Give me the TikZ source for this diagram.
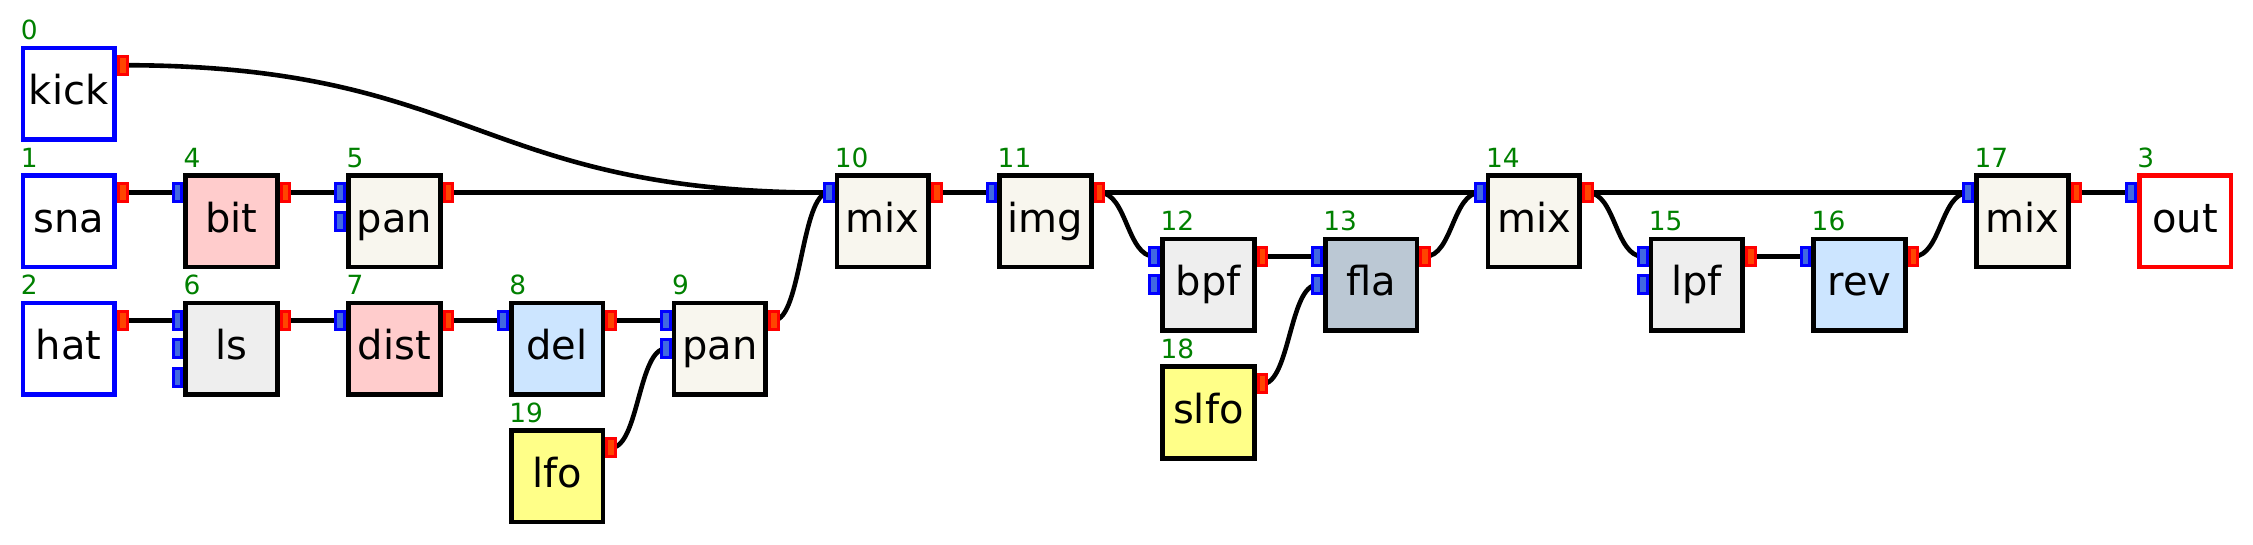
\documentclass[tikz,border=0pt]{standalone}
\usepackage{fontspec}
\setmainfont{DejaVu Sans}
\usetikzlibrary{calc,backgrounds}

\definecolor{numgreen}{HTML}{008000}
\definecolor{inblue}{HTML}{4169E1}
\definecolor{outred}{HTML}{FF4500}
\definecolor{pinkfill}{HTML}{FFCCCC}
\definecolor{ivoryfill}{HTML}{F8F6EE}
\definecolor{grayfill}{HTML}{EEEEEE}
\definecolor{bluefill}{HTML}{CCE5FF}
\definecolor{steelfill}{HTML}{BBC8D4}
\definecolor{yellowfill}{HTML}{FFFF88}

% wire between two ports, bent halfway
\newcommand{\wire}[2]{%
  \draw[wire] let \p1=(#1), \p2=(#2) in
    (\p1) .. controls ({(\x1+\x2)/2},\y1) and ({(\x1+\x2)/2},\y2) .. (\p2);}

\begin{document}
\begin{tikzpicture}[x=81.4pt, y=-63.75pt,
  unit/.style={draw=black, line width=2.35pt, minimum size=45.85pt, inner sep=0pt,
    text height=15pt, text depth=4.2pt, font=\fontsize{20}{24}\selectfont},
  src/.style={unit, draw=blue, fill=white},
  snk/.style={unit, draw=red, fill=white},
  inport/.style={draw=blue, fill=inblue, line width=1.5pt, minimum width=4.35pt,
    minimum height=9pt, inner sep=0pt, anchor=east},
  outport/.style={draw=red, fill=outred, line width=1.5pt, minimum width=4.35pt,
    minimum height=9pt, inner sep=0pt, anchor=west},
  num/.style={text=numgreen, font=\fontsize{13.2}{15}\selectfont, inner sep=0pt,
    anchor=base west},
  wire/.style={line width=2.3pt, black}]

\useasboundingbox (-0.422,-0.735) rectangle (13.417,3.532);

% sources
\node[src] (kick) at (0,0) {kick};
\node[src] (sna) at (0,1) {sna};
\node[src] (hat) at (0,2) {hat};

% units
\node[unit, fill=pinkfill] (bit) at (1,1) {bit};
\node[unit, fill=ivoryfill] (pan5) at (2,1) {pan};
\node[unit, fill=grayfill] (ls) at (1,2) {ls};
\node[unit, fill=pinkfill] (dist) at (2,2) {dist};
\node[unit, fill=bluefill] (del) at (3,2) {del};
\node[unit, fill=ivoryfill] (pan9) at (4,2) {pan};
\node[unit, fill=yellowfill] (lfo) at (3,3) {lfo};
\node[unit, fill=ivoryfill] (mix10) at (5,1) {mix};
\node[unit, fill=ivoryfill] (img) at (6,1) {img};
\node[unit, fill=grayfill] (bpf) at (7,1.5) {bpf};
\node[unit, fill=steelfill] (fla) at (8,1.5) {fla};
\node[unit, fill=yellowfill] (slfo) at (7,2.5) {slfo};
\node[unit, fill=ivoryfill] (mix14) at (9,1) {mix};
\node[unit, fill=grayfill] (lpf) at (10,1.5) {lpf};
\node[unit, fill=bluefill] (rev) at (11,1.5) {rev};
\node[unit, fill=ivoryfill] (mix17) at (12,1) {mix};

% sink
\node[snk] (out) at (13,1) {out};

% numbers
\foreach \n/\l in {kick/0, sna/1, hat/2, out/3, bit/4, pan5/5, ls/6, dist/7,
    del/8, pan9/9, mix10/10, img/11, bpf/12, fla/13, mix14/14, lpf/15,
    rev/16, mix17/17, slfo/18, lfo/19}
  \node[num] (\n-n) at ([yshift=2.9pt]\n.north west) {\l};

% input ports
\foreach \n/\c in {bit/1, pan5/2, ls/3, dist/1, del/1, pan9/2, mix10/1, img/1,
    bpf/2, fla/2, mix14/1, lpf/2, rev/1, mix17/1, out/1}
  \foreach \i in {1,...,\c}
    \node[inport] (\n-i\i) at ([yshift={(2-\i)*14.25pt}]\n.west) {};

% output ports
\foreach \n in {kick, sna, hat, bit, pan5, ls, dist, del, pan9, lfo, mix10, img,
    bpf, fla, slfo, mix14, lpf, rev, mix17}
  \node[outport] (\n-o1) at ([yshift=14.25pt]\n.east) {};

% wires
\begin{scope}[on background layer]
\wire{kick-o1}{mix10-i1}
\wire{sna-o1}{bit-i1}
\wire{bit-o1}{pan5-i1}
\wire{pan5-o1}{mix10-i1}
\wire{hat-o1}{ls-i1}
\wire{ls-o1}{dist-i1}
\wire{dist-o1}{del-i1}
\wire{del-o1}{pan9-i1}
\wire{lfo-o1}{pan9-i2}
\wire{pan9-o1}{mix10-i1}
\wire{mix10-o1}{img-i1}
\wire{img-o1}{mix14-i1}
\wire{img-o1}{bpf-i1}
\wire{bpf-o1}{fla-i1}
\wire{slfo-o1}{fla-i2}
\wire{fla-o1}{mix14-i1}
\wire{mix14-o1}{mix17-i1}
\wire{mix14-o1}{lpf-i1}
\wire{lpf-o1}{rev-i1}
\wire{rev-o1}{mix17-i1}
\wire{mix17-o1}{out-i1}
\end{scope}

\end{tikzpicture}
\end{document}
